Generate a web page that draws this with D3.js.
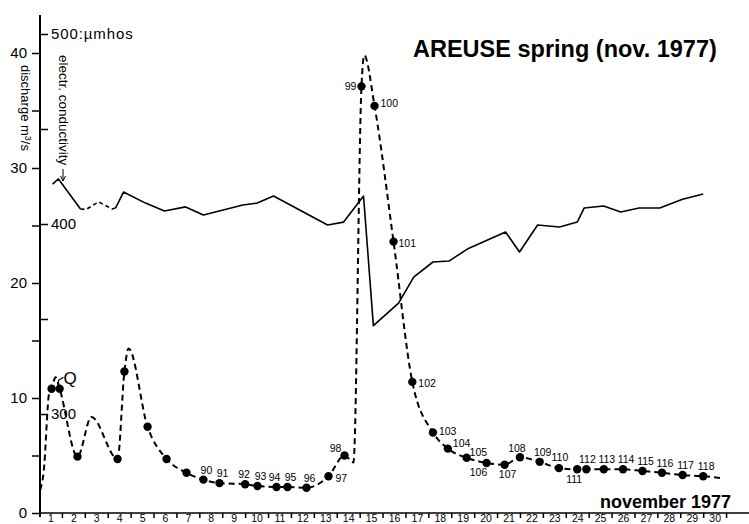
<!DOCTYPE html>
<html>
<head>
<meta charset="utf-8">
<script src="https://cdn.jsdelivr.net/npm/d3@7"></script>
<style>
  body { margin: 0; background: #fff; }
  svg { display: block; font-family: "Liberation Sans", Arial, sans-serif; }
  .axis line { stroke: #000; stroke-width: 1.5; }
  .axis text { fill: #000; font-family: "Liberation Sans", Arial, sans-serif; }
  .sample-label { fill: #000; }
</style>
</head>
<body>
<svg id="chart" width="749" height="524"></svg>
<script>
// time in days since the start of november 1 (day d is centred on d - 0.5)
const dischargeDays = [0.05, 0.2, 0.45, 0.55, 0.72, 0.9, 1.68, 2.29, 3.43, 3.73, 3.91, 4.74, 5.57, 6.44,
  7.18, 7.88, 9.0, 9.54, 10.37, 10.85, 11.68, 12.64, 13.34, 13.73, 14.08, 14.2, 14.65, 15.48, 16.3,
  17.2, 17.85, 18.67, 19.54, 20.33, 21.0, 21.86, 22.7, 23.5, 23.9, 24.66, 25.5, 26.35, 27.2, 28.1, 29.0, 29.9];
// discharge in m3/s
const dischargeValues = [2.0, 3.5, 10.5, 10.8, 11.8, 10.8, 4.9, 8.35, 4.7, 12.3, 14.3, 7.5, 4.7, 3.5,
  2.9, 2.6, 2.5, 2.35, 2.26, 2.26, 2.2, 3.2, 5.0, 4.4, 37.1, 39.8, 35.4, 23.6, 11.4,
  7.0, 5.6, 4.8, 4.35, 4.2, 4.85, 4.45, 3.9, 3.8, 3.8, 3.8, 3.8, 3.65, 3.5, 3.3, 3.2, 3.0];
// sample numbers: null = no sample taken, "" = sample without number
const sampleLabels = [null, null, null, "", null, "", "", null, "", "", null, "", "", "",
  "90", "91", "92", "93", "94", "95", "96", "97", "98", null, "99", null, "100", "101", "102",
  "103", "104", "105", "106", "107", "108", "109", "110", "111", "112", "113", "114", "115", "116", "117", "118", null];

// electrical conductivity in umhos
const condDays = [0.59, 0.85, 1.81, 2.05, 2.6, 3.2, 3.34, 3.69, 4.65, 5.48, 6.4, 7.18, 8.9, 9.53, 10.24,
  12.6, 13.3, 14.17, 14.6, 15.7, 16.36, 17.2, 17.9, 18.7, 20.37, 20.98, 21.77, 22.73, 23.5, 23.8,
  24.65, 25.4, 26.2, 27.1, 28.1, 29.0];
const condValues = [421, 423.7, 407.9, 407.6, 411.6, 407.9, 408.4, 416.8, 411, 406.8, 409, 404.7, 410, 411, 414.7,
  399.5, 401, 414.7, 346.5, 358.4, 372, 380, 380.5, 386.8, 395.8, 385.3, 399.5, 398.4, 401, 408.4,
  409.5, 406.3, 408.4, 408.4, 413, 415.8];
const condGap = [1.81, 3.34]; // no record here, drawn dashed

const dayLabels = d3.range(1, 31);
const dischargeTicks = [0, 5, 10, 15, 20, 25, 30, 35, 40];
const condTicks = [300, 350, 400, 450, 500];


class SpringChart {

    constructor(_config) {
        this.config = {
            parentElement: _config.parentElement,
            axisX: 40,
            axisY: 513
        };
        // label placement around the dots [dx, dy, anchor]
        this.labelPlace = {
            '92': [-1, -6, 'middle'], '94': [-2, -6, 'middle'],
            '97': [7, 6, 'start'], '98': [-9, -4, 'middle'], '99': [-5, 4, 'end'],
            '100': [6, 1, 'start'], '101': [5, 5, 'start'], '102': [6, 5, 'start'],
            '103': [6, 2, 'start'], '104': [5, -2, 'start'], '105': [3, -2, 'start'],
            '106': [-8, 13, 'middle'], '107': [3, 13, 'middle'], '108': [-3, -5, 'middle'],
            '110': [1, -7, 'middle'], '111': [-3, 14, 'middle'], '112': [1, -6, 'middle']
        };
        this.initVis();
    }

    initVis() {
        let vis = this;
        vis.svg = d3.select(vis.config.parentElement);

        vis.xScale = d3.scaleLinear().domain([0, 31]).range([39, 749]);
        vis.yQ = d3.scaleLinear().domain([0, 40]).range([vis.config.axisY, 53]);
        vis.yC = d3.scaleLinear().domain([300, 500]).range([414, 34]);

        vis.qData = dischargeDays.map((d, i) => ({ day: d, q: dischargeValues[i], label: sampleLabels[i] }));
        vis.cData = condDays.map((d, i) => ({ day: d, c: condValues[i] }));

        vis.renderVis();
    }

    renderVis() {
        let vis = this;
        const ax = vis.config.axisX, ay = vis.config.axisY;

        // axes lines
        vis.svg.append('line').attr('x1', ax).attr('x2', ax).attr('y1', 15).attr('y2', ay + 4)
            .attr('stroke', '#000').attr('stroke-width', 2);
        vis.svg.append('line').attr('x1', ax - 1).attr('x2', 749).attr('y1', ay).attr('y2', ay)
            .attr('stroke', '#000').attr('stroke-width', 1.5);

        // discharge axis (left)
        const qAxis = d3.axisLeft(vis.yQ).tickValues(dischargeTicks).tickSize(8).tickPadding(5)
            .tickFormat(d => d % 10 === 0 ? d : '');
        vis.svg.append('g').attr('class', 'axis')
            .attr('transform', `translate(${ax},0)`)
            .call(qAxis)
            .call(g => g.select('.domain').remove())
            .selectAll('text').style('font-size', '15px');

        // conductivity axis (right side of same line)
        const cAxis = d3.axisRight(vis.yC).tickValues(condTicks).tickSize(8).tickPadding(3)
            .tickFormat(d => d === 500 ? '500:\u00b5mhos' : (d % 100 === 0 ? d : ''));
        vis.svg.append('g').attr('class', 'axis')
            .attr('transform', `translate(${ax},0)`)
            .call(cAxis)
            .call(g => g.select('.domain').remove())
            .selectAll('text').style('font-size', '15px')
            .style('letter-spacing', d => d === 500 ? '0.9px' : null);

        // day ticks at day boundaries, labels at day centres
        vis.svg.append('g').attr('class', 'axis')
            .attr('transform', `translate(0,${ay})`)
            .call(d3.axisBottom(vis.xScale).tickValues(d3.range(1, 31)).tickSize(5).tickFormat(''))
            .call(g => g.select('.domain').remove());
        vis.svg.append('g').attr('class', 'axis')
            .attr('transform', `translate(0,${ay})`)
            .call(d3.axisBottom(vis.xScale).tickValues(dayLabels.map(d => d - 0.5)).tickSize(0).tickPadding(2)
                .tickFormat((d, i) => dayLabels[i]))
            .call(g => g.select('.domain').remove())
            .selectAll('text').style('font-size', '10.5px');

        // axis titles
        vis.svg.append('text')
            .attr('transform', 'translate(21,65) rotate(90)')
            .style('font-size', '13px')
            .html('discharge m<tspan dy="-4" font-size="9px">3</tspan><tspan dy="4">/s</tspan>');
        vis.svg.append('text')
            .attr('transform', 'translate(59,55) rotate(90)')
            .style('font-size', '13.5px')
            .text('electr. conductivity');
        // little arrow from the label to the conductivity curve
        const arrowX = 63, arrowY = vis.yC(vis.cData[1].c) + 2;
        vis.svg.append('line').attr('x1', arrowX).attr('x2', arrowX).attr('y1', 169).attr('y2', arrowY)
            .attr('stroke', '#000').attr('stroke-width', 1);
        vis.svg.append('path')
            .attr('d', `M${arrowX - 2.5},${arrowY - 5}L${arrowX},${arrowY}L${arrowX + 2.5},${arrowY - 5}`)
            .attr('fill', 'none').attr('stroke', '#000').attr('stroke-width', 1);

        // conductivity line: solid where measured, dashed across the gap
        const cLine = d3.line().x(d => vis.xScale(d.day)).y(d => vis.yC(d.c));
        vis.svg.append('path')
            .datum(vis.cData)
            .attr('d', cLine.defined(d => d.day <= condGap[0] || d.day >= condGap[1]))
            .attr('fill', 'none').attr('stroke', '#000').attr('stroke-width', 1.6)
            .attr('stroke-linejoin', 'round');
        vis.svg.append('path')
            .datum(vis.cData.filter(d => d.day >= condGap[0] && d.day <= condGap[1]))
            .attr('d', d3.line().x(d => vis.xScale(d.day)).y(d => vis.yC(d.c)))
            .attr('fill', 'none').attr('stroke', '#000').attr('stroke-width', 1.6)
            .attr('stroke-dasharray', '4,3');

        // discharge curve
        const qLine = d3.line().x(d => vis.xScale(d.day)).y(d => vis.yQ(d.q)).curve(d3.curveMonotoneX);
        vis.svg.append('path')
            .datum(vis.qData)
            .attr('d', qLine)
            .attr('fill', 'none').attr('stroke', '#000').attr('stroke-width', 2)
            .attr('stroke-dasharray', '6,4');

        const samples = vis.qData.filter(d => d.label !== null);
        vis.svg.selectAll('.sample')
            .data(samples)
            .join('circle')
            .attr('class', 'sample')
            .attr('cx', d => vis.xScale(d.day))
            .attr('cy', d => vis.yQ(d.q))
            .attr('r', 4.2)
            .attr('fill', '#000');

        vis.svg.selectAll('.sample-label')
            .data(samples.filter(d => d.label !== ''))
            .join('text')
            .attr('class', 'sample-label')
            .each(function(d) {
                const p = vis.labelPlace[d.label] || [3, -6, 'middle'];
                d3.select(this)
                    .attr('x', vis.xScale(d.day) + p[0])
                    .attr('y', vis.yQ(d.q) + p[1])
                    .attr('text-anchor', p[2]);
            })
            .style('font-size', '10.5px')
            .text(d => d.label);

        // "Q" marker next to the first peak
        const qPeak = vis.qData[4];
        const qx = vis.xScale(qPeak.day), qy = vis.yQ(qPeak.q);
        vis.svg.append('text').attr('x', qx + 8).attr('y', qy + 7)
            .style('font-size', '17px').text('Q');
        vis.svg.append('path')
            .attr('d', `M${qx + 8},${qy}L${qx + 3},${qy + 3}L${qx + 3},${qy + 8}`)
            .attr('fill', 'none').attr('stroke', '#000').attr('stroke-width', 1.2);

        // titles
        vis.svg.append('text').attr('x', 413).attr('y', 57)
            .style('font-size', '23.5px').style('font-weight', 'bold')
            .text('AREUSE spring (nov. 1977)');
        vis.svg.append('text').attr('x', 600).attr('y', 508)
            .style('font-size', '18px').style('font-weight', 'bold')
            .text('november 1977');
    }
}

new SpringChart({ parentElement: '#chart' });
</script>
</body>
</html>
